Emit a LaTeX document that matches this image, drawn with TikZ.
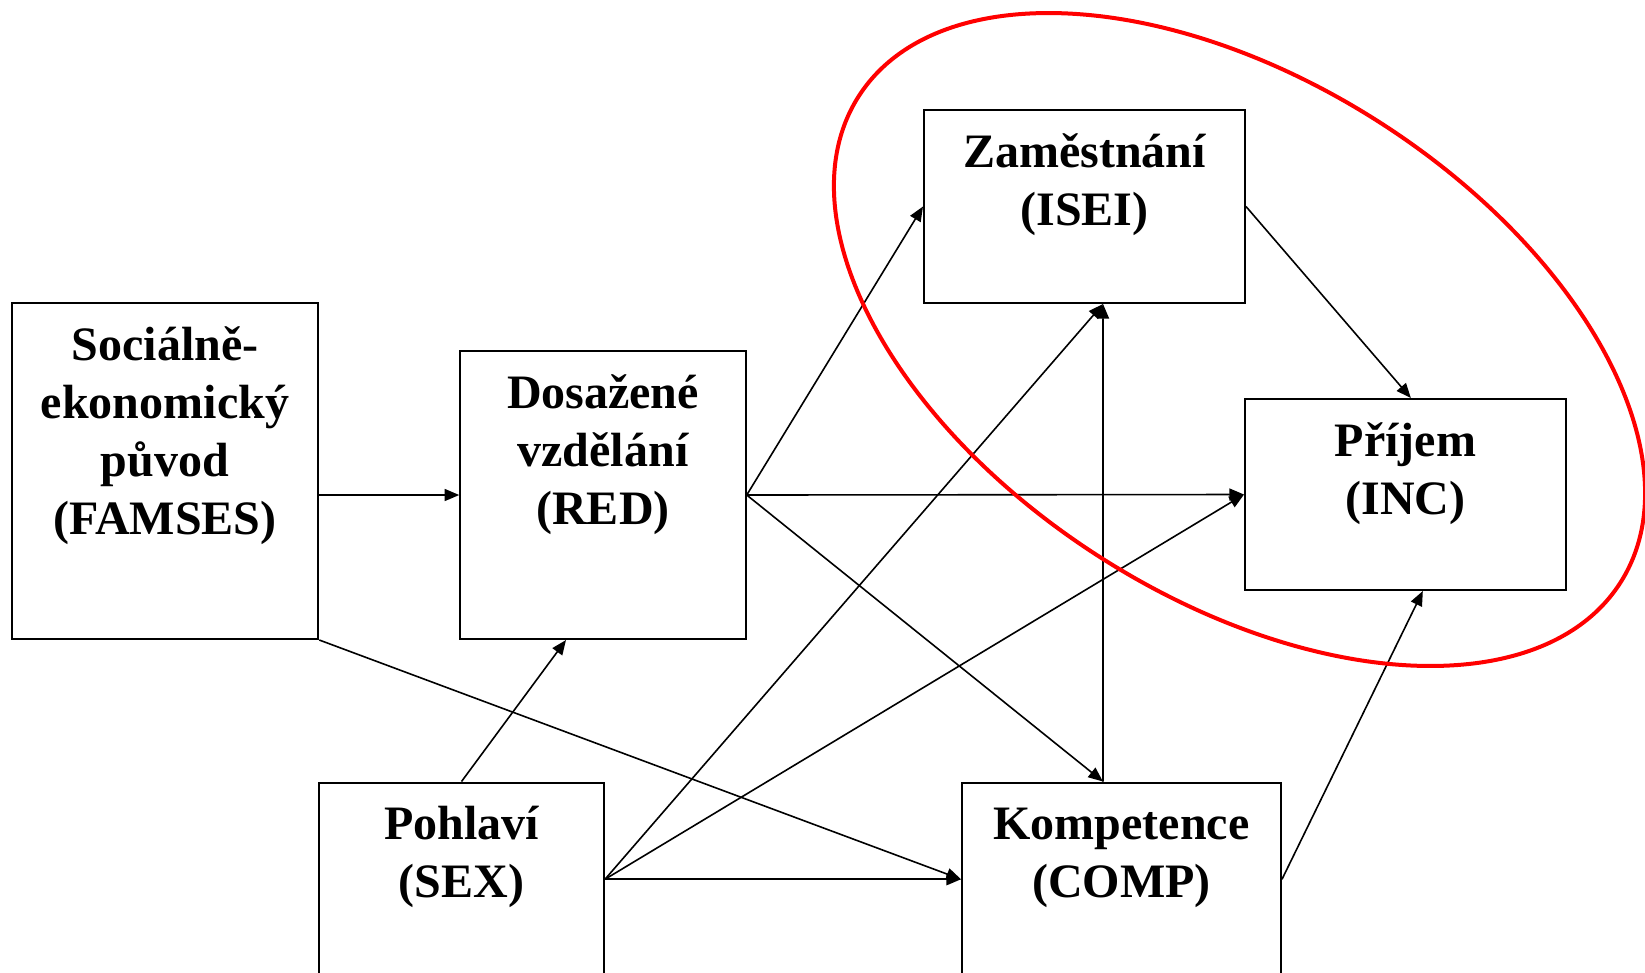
\documentclass[tikz,border=0pt]{standalone}
\usepackage{fontspec}
\setmainfont{Liberation Serif}
\usetikzlibrary{arrows.meta}
\newcommand{\boxtext}[1]{\begin{tabular}[t]{@{}c@{}}#1\end{tabular}}

\begin{document}
\begin{tikzpicture}[x=0.75pt,y=0.75pt,yscale=-1,xscale=1,
  box/.style={draw,line width=1.5pt,inner sep=0pt},
  lbl/.style={anchor=base,inner sep=0pt,font=\fontsize{36}{43.5}\selectfont\bfseries},
  conn/.style={line width=1.2pt,-{Triangle[length=11pt,width=9pt]}},
  ring/.style={draw=red,line width=3pt}]
\useasboundingbox (0,0) rectangle (1645,972);
\clip (0,0) rectangle (1645,972);

% Box
\node[box,minimum width=229.9pt,minimum height=252pt] (famses) at (165,471) {};
% Box
\node[box,minimum width=214.1pt,minimum height=216pt] (red) at (603,495) {};
% Box
\node[box,minimum width=240.75pt,minimum height=144.75pt] (isei) at (1084.5,206.5) {};
% Box
\node[box,minimum width=240.75pt,minimum height=143.25pt] (inc) at (1405.5,494.5) {};
% Box
\node[box,minimum width=213.75pt,minimum height=145.1pt] (sex) at (461.5,879.25) {};
% Box
\node[box,minimum width=239.25pt,minimum height=145.1pt] (comp) at (1121.5,879.25) {};

% Text Node
\node[lbl] (famsesT) at (165,360) {\boxtext{Sociálně-\\ekonomický\\původ\\(FAMSES)}};
% Text Node
\node[lbl] (redT) at (603,408) {\boxtext{Dosažené\\vzdělání\\(RED)}};
% Text Node
\node[lbl] (iseiT) at (1084.5,167) {\boxtext{Zaměstnání\\(ISEI)}};
% Text Node
\node[lbl] (incT) at (1405.5,456) {\boxtext{Příjem\\(INC)}};
% Text Node
\node[lbl] (sexT) at (461.5,839.5) {\boxtext{Pohlaví\\(SEX)}};
% Text Node
\node[lbl] (compT) at (1121.5,839.5) {\boxtext{Kompetence\\(COMP)}};

% Connection
\draw[conn] (famses.east |- red.west) -- (red.west);
% Connection
\draw[conn] (famses.south east) -- (comp.west);
% Connection
\draw[conn] (red.east) -- (isei.west);
% Connection
\draw[conn] (red.east) -- (inc.west);
% Connection
\draw[conn] (red.east) -- ([xshift=-13.9pt]comp.north);
% Connection
\draw[conn] (sex.north) -- ([xshift=-27.75pt]red.south);
% Connection
\draw[conn] (sex.east) -- ([xshift=13.9pt]isei.south);
% Connection
\draw[conn] (sex.east) -- (inc.west);
% Connection
\draw[conn] (sex.east) -- (comp.west);
% Connection
\draw[conn] ([xshift=-13.9pt]comp.north) -- ([xshift=13.9pt]isei.south);
% Connection
\draw[conn] (isei.east) -- ([xshift=4pt]inc.north);
% Connection
\draw[conn] (comp.east) -- ([xshift=13pt]inc.south);

% Ring
\draw[ring,rotate around={32.55:(1239.5,339.5)}] (1239.5,339.5) ellipse [x radius=451.9,y radius=258.5];

\end{tikzpicture}
\end{document}
